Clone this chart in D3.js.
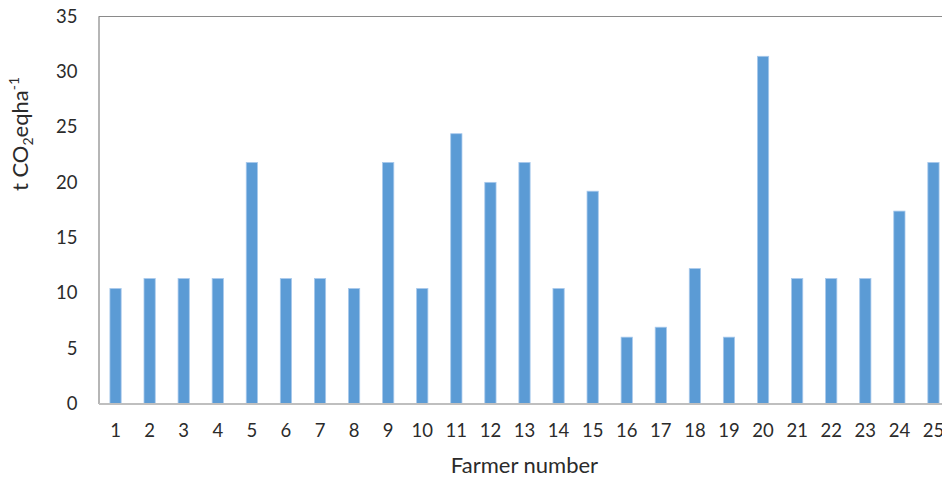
<!DOCTYPE html>
<html><head><meta charset="utf-8">
<script src="https://cdn.jsdelivr.net/npm/d3@7/dist/d3.min.js"></script>
<style>
html,body{margin:0;padding:0;background:#fff;}
svg{display:block;font-family:Lato,"Open Sans",sans-serif;}
</style></head>
<body><svg id="c" width="942" height="478"></svg>
<script>
const farmers = ["1","2","3","4","5","6","7","8","9","10","11","12","13","14","15","16","17","18","19","20","21","22","23","24","25"];
const emissions = [10.4,11.3,11.3,11.3,21.8,11.3,11.3,10.4,21.8,10.4,24.4,20.0,21.8,10.4,19.2,6.0,6.9,12.2,6.0,31.4,11.3,11.3,11.3,17.4,21.8];
const yTicks = [0,5,10,15,20,25,30,35];

(function(){
const svg = d3.select("#c");
const pl = 98.5, pt = 16.5, pb = 403.5, pr = 950.5;
const x = d3.scaleBand().domain(farmers).range([pl, pr]).paddingInner(0.67).paddingOuter(0.335);
const y = d3.scaleLinear().domain([0,35]).range([pb, pt]);
const txt = "#2b2b2b";

svg.append("line").attr("x1",pl).attr("x2",942).attr("y1",pt).attr("y2",pt)
  .attr("stroke","#8a8a8a").attr("stroke-width",1);

svg.append("g").selectAll("rect").data(emissions).join("rect")
  .attr("x",(d,i)=>x(farmers[i]))
  .attr("width",x.bandwidth())
  .attr("y",d=>y(d))
  .attr("height",d=>y(0)-y(d))
  .attr("fill","#5b9bd5")
  .attr("stroke","#a8c9ec").attr("stroke-width",0.8);

const ya = svg.append("g").attr("transform",`translate(${pl},0)`)
  .call(d3.axisLeft(y).tickValues(yTicks).tickSize(0).tickPadding(21));
ya.select(".domain").attr("stroke","#858585").attr("stroke-width",1.2);
ya.selectAll("text").attr("fill",txt).style("font-size","18.5px").style("font-family","Lato,sans-serif");

const xa = svg.append("g").attr("transform",`translate(0,${pb})`)
  .call(d3.axisBottom(x).tickSize(0).tickPadding(20));
xa.select(".domain").attr("stroke","#bfbfbf").attr("stroke-width",2.2);
xa.selectAll("text").attr("fill",txt).style("font-size","18.5px").style("font-family","Lato,sans-serif");

svg.append("text").attr("x",(pl+pr)/2).attr("y",473).attr("text-anchor","middle")
  .attr("fill",txt).style("font-size","22px").text("Farmer number");

const yt = svg.append("text").attr("transform","translate(28,134) rotate(-90)")
  .attr("text-anchor","middle").attr("fill",txt).style("font-size","22px");
yt.append("tspan").text("t CO");
yt.append("tspan").attr("dy",5).style("font-size","14px").text("2");
yt.append("tspan").attr("dy",-5).text("eqha");
yt.append("tspan").attr("dy",-9).style("font-size","14px").text("-1");
})();
</script></body></html>
